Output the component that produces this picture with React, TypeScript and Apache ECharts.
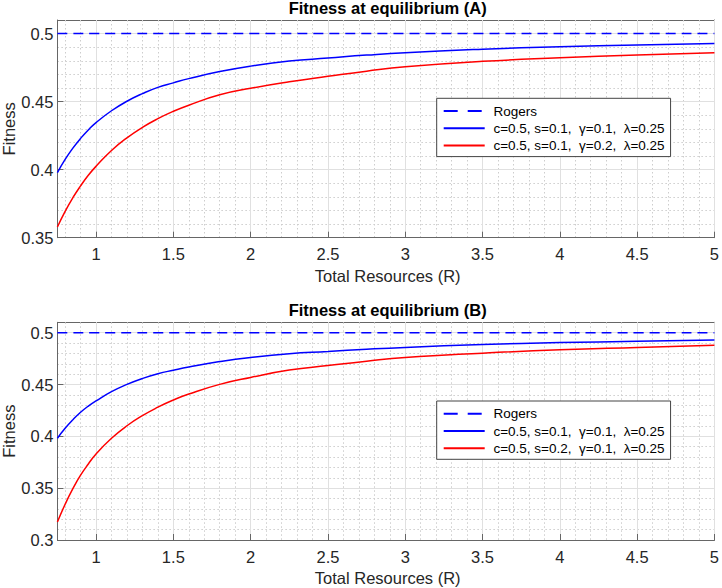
import React, { useEffect, useRef } from "react";
import * as echarts from "echarts";

// Total resources R (sample points)
const R = [0.75, 0.8, 0.85, 0.9, 0.95, 1.0, 1.1, 1.2, 1.3, 1.4, 1.5, 1.6, 1.8, 2.0, 2.25, 2.5, 2.75, 3, 3.5, 4, 4.5, 5];

// Panel A
const blueA = [0.3978, 0.4075, 0.4158, 0.423, 0.4292, 0.4346, 0.4433, 0.4503, 0.4559, 0.4605, 0.4638, 0.4669, 0.4721, 0.4761, 0.4798, 0.482, 0.4842, 0.486, 0.4885, 0.4904, 0.4917, 0.4927];
const redA = [0.3579, 0.3694, 0.3794, 0.3881, 0.3959, 0.4025, 0.4141, 0.4234, 0.4311, 0.4375, 0.4429, 0.4474, 0.455, 0.4598, 0.4646, 0.4686, 0.4724, 0.4756, 0.4796, 0.4822, 0.4843, 0.486];
// Panel B
const blueB = [0.3982, 0.4078, 0.416, 0.4232, 0.4292, 0.4342, 0.4431, 0.4501, 0.4558, 0.4604, 0.4638, 0.4669, 0.4721, 0.4761, 0.4797, 0.4818, 0.4840, 0.4858, 0.4885, 0.4904, 0.4917, 0.4929];
const redB = [0.3173, 0.3345, 0.3495, 0.3625, 0.3733, 0.383, 0.3981, 0.4102, 0.42, 0.4281, 0.435, 0.4408, 0.4501, 0.4568, 0.4639, 0.4683, 0.4725, 0.476, 0.4802, 0.4836, 0.4858, 0.4878];

// Rogers constant fitness
const rogersX = [0.75, 5];
const rogersY = [0.5, 0.5];

// Axis ticks
const X_TICKS = [1, 1.5, 2, 2.5, 3, 3.5, 4, 4.5, 5];
const Y_TICKS_A = [0.35, 0.4, 0.45, 0.5];
const Y_TICKS_B = [0.3, 0.35, 0.4, 0.45, 0.5];

const NAME_ROGERS = "Rogers";
const NAME_BLUE = "c=0.5, s=0.1,  \u03b3=0.1,  \u03bb=0.25";
const NAME_RED_A = "c=0.5, s=0.1,  \u03b3=0.2,  \u03bb=0.25";
const NAME_RED_B = "c=0.5, s=0.2,  \u03b3=0.1,  \u03bb=0.25";

const FONT = "'Liberation Sans', Arial, Helvetica, sans-serif";
const AXIS_COLOR = "#666666";
const TEXT_COLOR = "#262626";

function steps(a: number, b: number, st: number): number[] {
  const out: number[] = [];
  const n = Math.round((b - a) / st);
  for (let i = 0; i <= n; i++) out.push(Math.round((a + i * st) * 1000) / 1000);
  return out;
}

export default function App() {
  const ref = useRef<HTMLDivElement>(null);
  useEffect(() => {
    const chart = echarts.init(ref.current!, null, { renderer: "svg" });

    const gridLeft = 57.4;
    const gridW = 660.6;
    const gridH = 217.7;
    const tops = [20, 322.3];
    const yRanges = [
      { min: 0.35, max: 0.51, ticks: Y_TICKS_A },
      { min: 0.3, max: 0.51, ticks: Y_TICKS_B },
    ];
    const minorX = steps(0.8, 4.9, 0.1);

    const xAxis: any[] = [];
    const yAxis: any[] = [];
    tops.forEach((_, g) => {
      xAxis.push({
        type: "value", gridIndex: g, min: 0.75, max: 5, position: "bottom",
        axisLine: { show: true, onZero: false, lineStyle: { color: AXIS_COLOR, width: 1 } },
        axisTick: { show: true, inside: true, length: 6, customValues: X_TICKS, lineStyle: { color: AXIS_COLOR } },
        axisLabel: { show: true, customValues: X_TICKS, margin: 8, color: TEXT_COLOR, fontSize: 16.5, fontFamily: FONT },
        splitLine: { show: true, lineStyle: { color: "#e0e0e0", width: 1 } },
        z: 2,
      });
      xAxis.push({
        type: "value", gridIndex: g, min: 0.75, max: 5, position: "top",
        axisLine: { show: true, onZero: false, lineStyle: { color: AXIS_COLOR, width: 1 } },
        axisTick: { show: true, inside: true, length: 6, customValues: X_TICKS, lineStyle: { color: AXIS_COLOR } },
        axisLabel: { show: false },
        splitLine: { show: false },
      });
      xAxis.push({
        type: "value", gridIndex: g, min: 0.75, max: 5, position: "bottom",
        axisLine: { show: false }, axisLabel: { show: false },
        axisTick: { show: false, customValues: minorX },
        splitLine: { show: true, lineStyle: { color: "#cdcdcd", width: 1, type: [1.5, 2.5] } },
        z: 1,
      });
      const yr = yRanges[g];
      const minorY = steps(yr.min + 0.01, 0.5, 0.01);
      yAxis.push({
        type: "value", gridIndex: g, min: yr.min, max: yr.max, position: "left",
        axisLine: { show: true, onZero: false, lineStyle: { color: AXIS_COLOR, width: 1 } },
        axisTick: { show: true, inside: true, length: 6, customValues: yr.ticks, lineStyle: { color: AXIS_COLOR } },
        axisLabel: { show: true, customValues: yr.ticks, margin: 4, color: TEXT_COLOR, fontSize: 16.5, fontFamily: FONT },
        splitLine: { show: true, lineStyle: { color: "#e0e0e0", width: 1 } },
        z: 2,
      });
      yAxis.push({
        type: "value", gridIndex: g, min: yr.min, max: yr.max, position: "right",
        axisLine: { show: true, onZero: false, lineStyle: { color: AXIS_COLOR, width: 1 } },
        axisTick: { show: true, inside: true, length: 6, customValues: yr.ticks, lineStyle: { color: AXIS_COLOR } },
        axisLabel: { show: false },
        splitLine: { show: false },
      });
      yAxis.push({
        type: "value", gridIndex: g, min: yr.min, max: yr.max, position: "left",
        axisLine: { show: false }, axisLabel: { show: false },
        axisTick: { show: false, customValues: minorY },
        splitLine: { show: true, lineStyle: { color: "#cdcdcd", width: 1, type: [1.5, 2.5] } },
        z: 1,
      });
    });

    const zip = (xs: number[], ys: number[]) => xs.map((x, i) => [x, ys[i]]);
    const lineSeries = (name: string, data: number[][], color: string, axisIdx: number, dashed = false) => ({
      type: "line", name, data, xAxisIndex: axisIdx, yAxisIndex: axisIdx,
      symbol: "none", smooth: 0.5,
      lineStyle: { color, width: 1.5, type: dashed ? [10, 6] : "solid" },
      itemStyle: { color },
      z: 5,
    });

    const series = [
      lineSeries(NAME_ROGERS, zip(rogersX, rogersY), "#0000ff", 0, true),
      lineSeries(NAME_BLUE, zip(R, blueA), "#0000ff", 0),
      lineSeries(NAME_RED_A, zip(R, redA), "#ff0000", 0),
      lineSeries(NAME_ROGERS, zip(rogersX, rogersY), "#0000ff", 3, true),
      lineSeries(NAME_BLUE, zip(R, blueB), "#0000ff", 3),
      lineSeries(NAME_RED_B, zip(R, redB), "#ff0000", 3),
    ];

    const legendBase = {
      orient: "vertical", left: 436.7,
      backgroundColor: "#ffffff", borderColor: "#444444", borderWidth: 1,
      padding: [5.7, 6, 4, 6], itemWidth: 41, itemHeight: 14, itemGap: 3.3,
      itemStyle: { opacity: 0 },
      formatter: (name: string) => " " + name,
      textStyle: { fontSize: 13.5, fontFamily: FONT, color: "#000000", lineHeight: 14 },
      selectedMode: false,
    };
    const rogersLegend = { name: NAME_ROGERS, lineStyle: { type: [14, 10] } };
    const legend = [
      { ...legendBase, top: 98.3, data: [rogersLegend, NAME_BLUE, NAME_RED_A] },
      { ...legendBase, top: 401, data: [rogersLegend, NAME_BLUE, NAME_RED_B] },
    ];

    const cx = gridLeft + gridW / 2;
    const txt = (text: string, x: number, y: number, font: string, rotation = 0, color = TEXT_COLOR) => ({
      type: "text", x, y, rotation,
      style: { text, font, fill: color, textAlign: "center", textVerticalAlign: "middle" },
    });
    const graphic = [
      txt("Fitness at equilibrium (A)", cx, 7.5, `bold 16.5px ${FONT}`, 0, "#000"),
      txt("Fitness at equilibrium (B)", cx, 310, `bold 16.5px ${FONT}`, 0, "#000"),
      txt("Total Resources (R)", cx, 275.5, `16.5px ${FONT}`),
      txt("Total Resources (R)", cx, 577.5, `16.5px ${FONT}`),
      txt("Fitness", 9, tops[0] + gridH / 2, `16.5px ${FONT}`, Math.PI / 2),
      txt("Fitness", 9, tops[1] + gridH / 2, `16.5px ${FONT}`, Math.PI / 2),
    ];

    chart.setOption({
      animation: false,
      backgroundColor: "#ffffff",
      grid: tops.map((t) => ({ left: gridLeft, top: t, width: gridW, height: gridH, containLabel: false })),
      xAxis, yAxis, series, legend, graphic,
    });
    return () => chart.dispose();
  }, []);
  return <div ref={ref} style={{ position: "fixed", left: 0, top: 0, width: 722, height: 588 }} />;
}
